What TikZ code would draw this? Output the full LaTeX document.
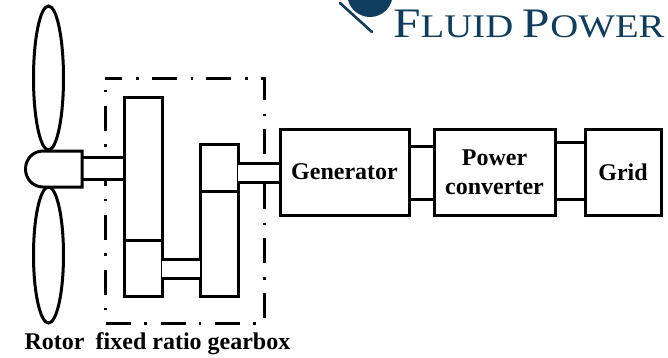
\documentclass[tikz,border=0pt]{standalone}
\usepackage{fontspec}
\setmainfont{Liberation Serif}
\definecolor{logoblue}{HTML}{0F3D5F}
\tikzset{
  x=1pt,y=-1pt,
  part/.style={draw=black,line width=3pt,fill=white,rectangle,inner sep=0pt,minimum width=#1},
  lbl/.style={font=\bfseries\fontsize{24}{29}\selectfont,align=center,text=black},
  wire/.style={draw=black,line width=3pt},
  blade/.style={draw=black,line width=3pt,fill=white},
  frameline/.style={draw=black,line width=3pt,dash pattern=on 25pt off 14pt on 2.5pt off 13pt,dash phase=8pt}
}
\begin{document}
\begin{tikzpicture}
\useasboundingbox (0,0) rectangle (668,357);
% logo
\begin{scope}
\clip (330,0) rectangle (420,40);
\fill[logoblue] (370,-5.7) circle[radius=22.7];
\end{scope}
\coordinate (la) at (340,3);
\coordinate (lb) at (372,32);
\draw[logoblue,line width=2.6pt,line cap=round] (la) -- (lb);
\node[anchor=base west,inner sep=0pt,text=logoblue,xscale=1.175,transform shape] (logo) at (393,37) {\fontsize{42}{44}\selectfont F\fontsize{33}{44}\selectfont LUID \fontsize{42}{44}\selectfont P\fontsize{33}{44}\selectfont OWER};
% frame
\draw[frameline] (105,78) -- (264,78) -- (264,323) -- (105,323) -- cycle;
% blades
\draw[blade] (48.5,78) ellipse[x radius=15,y radius=72];
\draw[blade] (48.5,255) ellipse[x radius=15,y radius=68];
% shafts
\coordinate (s1a) at (82,157); \coordinate (s1b) at (124,157);
\coordinate (s1c) at (82,179); \coordinate (s1d) at (124,179);
\fill[white] (s1a) rectangle (s1d);
\draw[wire] (s1a) -- (s1b) (s1c) -- (s1d);
% hub
\draw[wire,fill=white] (82,151) -- (43,151) .. controls (33,151) and (25.5,159) .. (25.5,169) .. controls (25.5,179) and (33,187) .. (43,187) -- (82,187) -- cycle;
% gears
\draw[wire,fill=white] (124,97) rectangle (162,296);
\draw[wire] (124,240) -- (162,240);
\draw[wire,fill=white] (200,144) rectangle (238,296);
\draw[wire] (200,191) -- (238,191);
\fill[white] (162,259) rectangle (200,278);
\draw[wire] (162,259) -- (200,259) (162,278) -- (200,278);
\fill[white] (238,163) rectangle (280,182);
\draw[wire] (238,163) -- (280,163) (238,182) -- (280,182);
% boxes
\node[part=129pt,minimum height=86pt,lbl] (gen) at (344.5,172) {Generator};
\node[part=121pt,minimum height=86pt,lbl] (conv) at (494.5,172) {Power\\converter};
\node[part=76pt,minimum height=86pt,lbl] (grid) at (623,172) {Grid};
\draw[wire] (gen.east |- 0,146) -- (conv.west |- 0,146);
\draw[wire] (gen.east |- 0,199) -- (conv.west |- 0,199);
\draw[wire] (conv.east |- 0,142) -- (grid.west |- 0,142);
\draw[wire] (conv.east |- 0,199) -- (grid.west |- 0,199);
% captions
\node[lbl,anchor=base] (rotor) at (54.5,349) {Rotor};
\node[lbl,anchor=base] (gb) at (193,349) {fixed ratio gearbox};
\end{tikzpicture}
\end{document}
